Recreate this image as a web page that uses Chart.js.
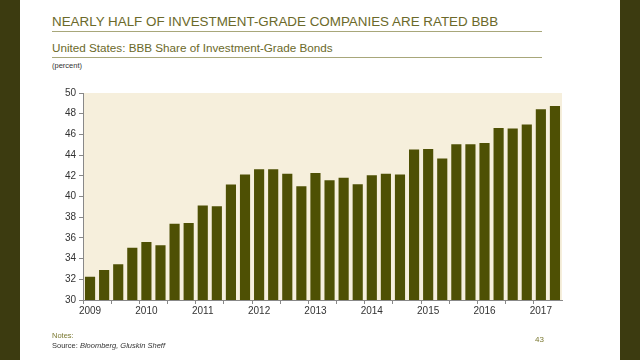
<!DOCTYPE html>
<html>
<head>
<meta charset="utf-8">
<script src="https://cdn.jsdelivr.net/npm/chart.js@4/dist/chart.umd.min.js"></script>
<style>
  html, body { margin: 0; padding: 0; background: #ffffff; }
  #wrap { position: relative; width: 640px; height: 360px; overflow: hidden; background: #ffffff; font-family: "Liberation Sans", Arial, sans-serif; }
  .bl { position: absolute; top: 0; width: 20px; height: 360px; background: #3c3b10; }
  #c { position: absolute; left: 0; top: 0; }
  .t { position: absolute; white-space: nowrap; }
  #title { left: 52px; top: 14px; font-size: 13.4px; color: #6b692a; }
  #sub { left: 52px; top: 41px; font-size: 11.7px; color: #6b692a; }
  #unit { left: 52px; top: 61px; font-size: 7.5px; color: #333333; }
  .rule { position: absolute; left: 52px; width: 490px; height: 1px; background: #a8a77a; }
  #notes { left: 52px; top: 331px; font-size: 7.5px; color: #7a7830; }
  #src { left: 52px; top: 341px; font-size: 7.5px; color: #333; }
  #pg { left: 535px; top: 335px; font-size: 8px; color: #7a7830; }
</style>
</head>
<body>
<div id="wrap">
  <div class="bl" style="left:0"></div>
  <div class="bl" style="left:620px"></div>
  <div class="t" id="title">NEARLY HALF OF INVESTMENT-GRADE COMPANIES ARE RATED BBB</div>
  <div class="rule" style="top:31px"></div>
  <div class="t" id="sub">United States: BBB Share of Investment-Grade Bonds</div>
  <div class="rule" style="top:57px"></div>
  <div class="t" id="unit">(percent)</div>
  <canvas id="c" width="640" height="360"></canvas>
  <div class="t" id="notes">Notes:</div>
  <div class="t" id="src">Source: <i>Bloomberg, Gluskin Sheff</i></div>
  <div class="t" id="pg">43</div>
</div>
<script>
const years = ["2009","2010","2011","2012","2013","2014","2015","2016","2017"];
const quarters = ["Q1","Q2","Q3","Q4"];
// quarterly categories 2009 Q1 .. 2017 Q2
const categories = [];
for (const y of years) for (const q of quarters) categories.push(y + " " + q);
categories.length = 34;
const bbbShare = [
  32.25, 32.9, 33.45, 35.05, 35.6, 35.28, 37.36, 37.43,
  39.13, 39.07, 41.16, 42.12, 42.64, 42.64, 42.19, 41.0,
  42.28, 41.58, 41.8, 41.19, 42.06, 42.19, 42.12, 44.54,
  44.6, 43.67, 45.05, 45.05, 45.18, 46.63, 46.56, 46.95,
  48.43, 48.75
];
const yTicks = [30,32,34,36,38,40,42,44,46,48,50];

const bgPlugin = {
  id: 'plotBg',
  beforeDraw(chart) {
    const a = chart.chartArea, ctx = chart.ctx;
    ctx.save();
    ctx.fillStyle = '#f6efdc';
    ctx.fillRect(a.left, a.top, a.right - a.left, a.bottom - a.top);
    ctx.restore();
  }
};

new Chart(document.getElementById('c'), {
  type: 'bar',
  data: {
    labels: categories,
    datasets: [{
      label: 'BBB share',
      data: bbbShare,
      backgroundColor: '#4e5004',
      borderWidth: 0,
      barPercentage: 0.72,
      categoryPercentage: 1.0
    }]
  },
  options: {
    responsive: false,
    animation: false,
    layout: { padding: { left: 40, right: 78, top: 93, bottom: 40 } },
    plugins: { legend: { display: false }, tooltip: { enabled: false } },
    scales: {
      x: {
        offset: true,
        grid: {
          offset: true,
          drawOnChartArea: false,
          drawTicks: true,
          tickLength: 4,
          color: (ctx) => (ctx.index % 2 === 0 ? '#888888' : 'rgba(0,0,0,0)'),
          lineWidth: 1
        },
        border: { display: true, color: '#888888', width: 1 },
        ticks: {
          autoSkip: false,
          maxRotation: 0,
          padding: 1,
          color: '#333333',
          font: { family: 'Liberation Sans', size: 10 },
          callback: (v, i) => (i % 4 === 0 ? categories[i].slice(0, 4) : '')
        },
        afterFit: (s) => { s.height = 20; }
      },
      y: {
        min: 30, max: 50,
        afterBuildTicks: (s) => { s.ticks = yTicks.map(v => ({ value: v })); },
        grid: { drawOnChartArea: false, drawTicks: true, tickLength: 4, color: '#888888' },
        border: { display: true, color: '#888888', width: 1 },
        ticks: {
          padding: 3,
          color: '#333333',
          font: { family: 'Liberation Sans', size: 10 }
        },
        afterFit: (s) => { s.width = 43; }
      }
    }
  },
  plugins: [bgPlugin]
});
</script>
</body>
</html>
